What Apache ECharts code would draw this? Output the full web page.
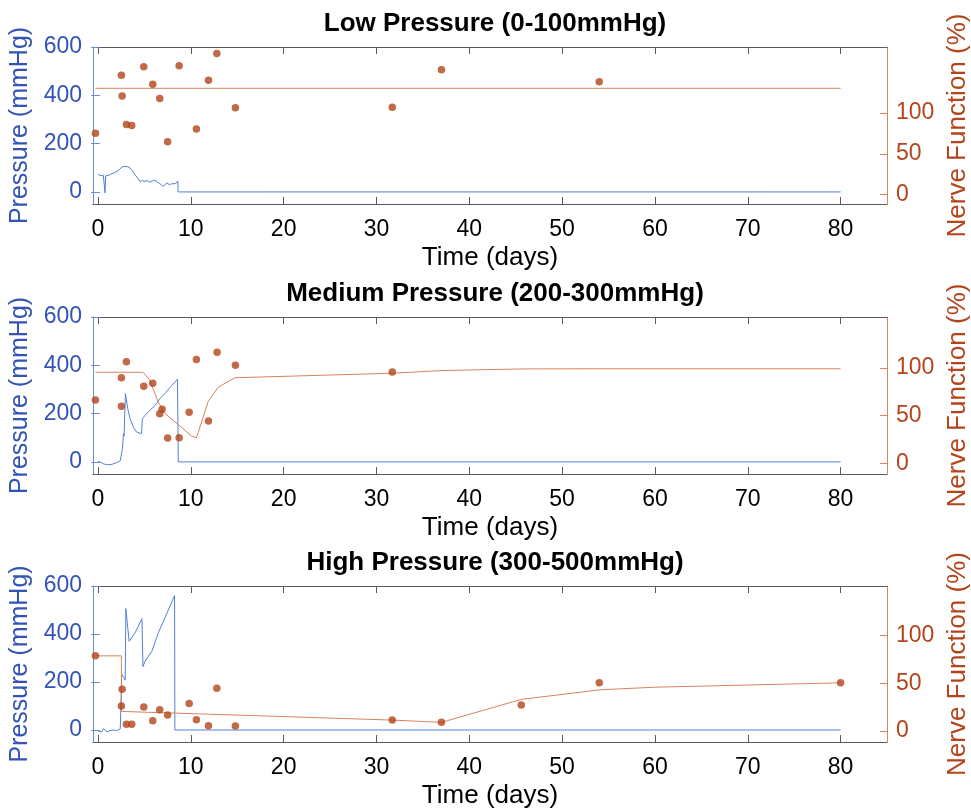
<!DOCTYPE html>
<html><head><meta charset="utf-8">
<script src="https://cdn.jsdelivr.net/npm/echarts@6/dist/echarts.min.js"></script>
<style>html,body{margin:0;padding:0;background:#fff}#c{width:971px;height:812px}</style>
</head><body><div id="c"></div>
<script>
// ---------- text ----------
const panelTitles = ['Low Pressure (0-100mmHg)', 'Medium Pressure (200-300mmHg)', 'High Pressure (300-500mmHg)'];
const xName = 'Time (days)';
const leftName = 'Pressure (mmHg)';
const rightName = 'Nerve Function (%)';
// ---------- ticks ----------
const xTicks = [0, 10, 20, 30, 40, 50, 60, 70, 80];
const pressureTicks = [0, 200, 400, 600];
const nerveTicks = [0, 50, 100];
const xRange = [-0.54, 85];
const pressureRange = [-50, 600];
const nerveRanges = [[-11.4, 181], [-11, 153.4], [-11.7, 152]];

// ---------- Low pressure ----------
const lowPressT = [0, 0.3, 0.57, 0.72, 0.76, 0.82, 0.97, 1.2, 1.5, 1.8, 2.04, 2.3, 2.58, 2.9, 3.2, 3.45, 3.7, 3.98, 4.25, 4.5, 4.8, 5.07, 5.3, 5.6, 5.97, 6.3, 6.67, 7.0, 7.2, 7.4, 7.7, 7.95, 8.3, 8.6, 8.63, 80];
const lowPressP = [72, 68, 69, 66, -4, 66, 72, 70, 76, 80, 85, 92, 103, 106, 104, 99, 88, 72, 58, 44, 46, 44, 47, 40, 48, 44, 34, 23, 30, 37, 30, 34, 34, 44, 0, 0];
const lowNerveLineT = [-0.28, 80];
const lowNerveLineV = [130.4, 130.4];
const lowNerveDotT = [-0.28, 2.52, 2.6, 3.06, 3.63, 4.93, 5.9, 6.65, 7.5, 8.74, 10.6, 11.9, 12.8, 14.8, 31.7, 37.0, 54.0];
const lowNerveDotV = [75.2, 146.4, 121.1, 85.9, 84.7, 156.7, 135.3, 117.8, 65, 157.9, 80.6, 140.2, 173, 106.4, 107.1, 153, 138.3];

// ---------- Medium pressure ----------
const medPressT = [0, 0.3, 0.6, 1.0, 1.5, 2.0, 2.4, 2.55, 2.63, 2.74, 2.81, 2.95, 3.2, 3.45, 3.8, 4.15, 4.68, 4.78, 5.07, 5.6, 6.15, 6.67, 7.2, 7.95, 8.56, 8.65, 80];
const medPressP = [2, -2, -8, -12, -10, -3, 5, 8, 55, 117, 107, 283, 221, 179, 145, 124, 117, 179, 193, 214, 234, 262, 283, 317, 342, 0, 0];
const medNerveLineT = [-0.28, 4.85, 5.57, 6.47, 7.2, 10.07, 10.6, 11.86, 12.94, 14.74, 31.7, 37, 45.6, 54, 80];
const medNerveLineV = [95.5, 95.5, 87.4, 64.7, 52.6, 28.8, 26.7, 64.7, 79.8, 89.8, 94.5, 97.3, 99, 99.2, 99.2];
const medNerveDotT = [-0.28, 2.52, 2.52, 3.06, 4.93, 5.9, 6.9, 6.65, 7.5, 8.74, 9.82, 10.6, 11.9, 12.83, 14.8, 31.7];
const medNerveDotV = [66.5, 89.8, 59.9, 106.6, 80.8, 84, 56.8, 52.1, 26.7, 27, 53.6, 109, 44.5, 116.4, 102.8, 95.8];

// ---------- High pressure ----------
const highPressT = [0, 0.2, 0.4, 0.6, 0.97, 1.3, 1.7, 2.0, 2.4, 2.5, 2.55, 2.75, 2.93, 3.0, 3.35, 4.0, 4.73, 4.84, 5.07, 5.8, 6.5, 7.2, 8.25, 8.28, 80];
const highPressP = [-4, 3, -8, 6, -8, -2, 0, -3, 5, 10, 232, 220, 208, 506, 370, 405, 464, 264, 287, 328, 405, 467, 560, 0, 0];
const highNerveLineT = [-0.28, 2.52, 2.53, 31.7, 37, 45.6, 54.1, 60, 80];
const highNerveLineV = [78.7, 78.7, 20.4, 11.3, 8.9, 33, 43.1, 45.8, 50.4];
const highNerveDotT = [-0.28, 2.6, 2.52, 3.06, 3.63, 4.93, 5.9, 6.65, 7.5, 9.82, 10.6, 11.9, 12.8, 14.8, 31.7, 37, 45.6, 54, 80];
const highNerveDotV = [78.7, 43.7, 26, 6.8, 6.8, 24.9, 10.6, 22.1, 16.6, 28.8, 11.7, 5.4, 44.8, 5, 11.3, 8.9, 27, 50.4, 50.4];

// ---------- build ----------
const zip = (a, b) => a.map((v, i) => [v, b[i]]);
const panels = [
  {pt: lowPressT, pp: lowPressP, lt: lowNerveLineT, lv: lowNerveLineV, dt: lowNerveDotT, dv: lowNerveDotV},
  {pt: medPressT, pp: medPressP, lt: medNerveLineT, lv: medNerveLineV, dt: medNerveDotT, dv: medNerveDotV},
  {pt: highPressT, pp: highPressP, lt: highNerveLineT, lv: highNerveLineV, dt: highNerveDotT, dv: highNerveDotV}
];

const FONT = 'Liberation Sans';
const BLUE_TXT = '#3354b6', BLUE_LINE = '#5580d4', BLUE_AX = '#6a8fd8';
const ORG_TXT = '#b3441b', ORG_LINE = '#d8835c', ORG_DOT = '#b3431a';
const GRAY = '#5a5a5a';
const tops = [47, 317, 586];
const heights = [157, 157, 156];

const grid = [], xAxis = [], yAxis = [], series = [], title = [];
panels.forEach((p, i) => {
  grid.push({left: 93, right: 84, top: tops[i], height: heights[i], containLabel: false, outerBoundsMode: 'none'});
  title.push({text: panelTitles[i], left: 490, textAlign: 'center', top: tops[i] - 41,
    textStyle: {fontFamily: FONT, fontSize: 26, fontWeight: 'bold', color: '#000'}});
  // bottom x axis
  xAxis.push({type: 'value', gridIndex: i, min: xRange[0], max: xRange[1], position: 'bottom',
    name: xName, nameLocation: 'middle', nameGap: 41,
    nameTextStyle: {fontFamily: FONT, fontSize: 26, color: '#000'},
    axisLine: {show: true, onZero: false, lineStyle: {color: GRAY, width: 1}},
    axisTick: {show: true, inside: true, length: 7, customValues: xTicks, lineStyle: {color: GRAY}},
    axisLabel: {show: true, customValues: xTicks, margin: 14, fontFamily: FONT, fontSize: 23, color: '#000'},
    splitLine: {show: false}});
  // top x axis (box)
  xAxis.push({type: 'value', gridIndex: i, min: xRange[0], max: xRange[1], position: 'top',
    axisLine: {show: true, onZero: false, lineStyle: {color: GRAY, width: 1}},
    axisTick: {show: true, inside: true, length: 7, customValues: xTicks, lineStyle: {color: GRAY}},
    axisLabel: {show: false}, splitLine: {show: false}});
  // left pressure axis
  yAxis.push({type: 'value', gridIndex: i, min: pressureRange[0], max: pressureRange[1], position: 'left',
    name: leftName, nameLocation: 'middle', nameGap: 54, nameRotate: 90,
    nameTextStyle: {fontFamily: FONT, fontSize: 25, color: BLUE_TXT},
    axisLine: {show: true, onZero: false, lineStyle: {color: BLUE_AX, width: 1}},
    axisTick: {show: true, inside: true, length: 7, customValues: pressureTicks, lineStyle: {color: BLUE_AX}},
    axisLabel: {show: true, customValues: pressureTicks, margin: 11, fontFamily: FONT, fontSize: 23, color: BLUE_TXT},
    splitLine: {show: false}});
  // right nerve axis
  yAxis.push({type: 'value', gridIndex: i, min: nerveRanges[i][0], max: nerveRanges[i][1], position: 'right',
    name: rightName, nameLocation: 'middle', nameGap: 58, nameRotate: 90,
    nameTextStyle: {fontFamily: FONT, fontSize: 26, color: ORG_TXT},
    axisLine: {show: true, onZero: false, lineStyle: {color: ORG_LINE, width: 1}},
    axisTick: {show: true, inside: true, length: 7, customValues: nerveTicks, lineStyle: {color: ORG_LINE}},
    axisLabel: {show: true, customValues: nerveTicks, margin: 9, fontFamily: FONT, fontSize: 23, color: ORG_TXT},
    splitLine: {show: false}});
  // right mirror of pressure ticks
  yAxis.push({type: 'value', gridIndex: i, min: pressureRange[0], max: pressureRange[1], position: 'right',
    axisLine: {show: false},
    axisTick: {show: true, inside: true, length: 7, customValues: pressureTicks, lineStyle: {color: BLUE_AX}},
    axisLabel: {show: false}, splitLine: {show: false}});

  series.push({type: 'line', xAxisIndex: 2 * i, yAxisIndex: 3 * i, data: zip(p.pt, p.pp),
    showSymbol: false, symbol: 'none', lineStyle: {color: BLUE_LINE, width: 1}, z: 2, silent: true});
  series.push({type: 'line', xAxisIndex: 2 * i, yAxisIndex: 3 * i + 1, data: zip(p.lt, p.lv),
    showSymbol: false, symbol: 'none', lineStyle: {color: ORG_LINE, width: 1}, z: 3, silent: true});
  series.push({type: 'scatter', xAxisIndex: 2 * i, yAxisIndex: 3 * i + 1, data: zip(p.dt, p.dv),
    symbol: 'circle', symbolSize: 7.5, itemStyle: {color: ORG_DOT}, z: 4, silent: true});
});

const chart = echarts.init(document.getElementById('c'), null, {renderer: 'canvas'});
chart.setOption({animation: false, backgroundColor: '#fff', title, grid, xAxis, yAxis, series});
</script>
</body></html>
